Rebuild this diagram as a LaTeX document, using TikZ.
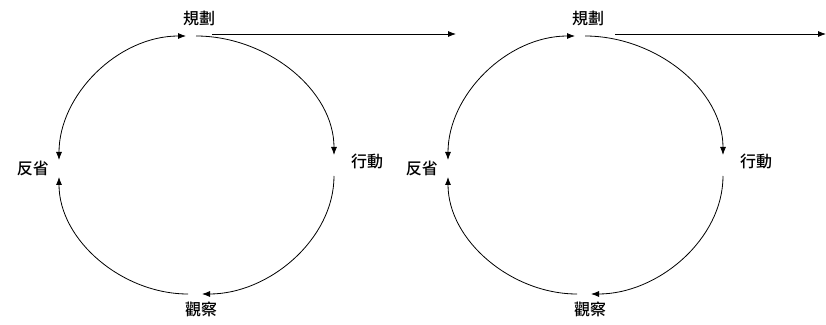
\documentclass[tikz,border=0pt]{standalone}
\usepackage{fontspec}
\newfontfamily\cjk{Noto Sans CJK TC}[BoldFont={Noto Sans CJK TC Medium}]
\usetikzlibrary{arrows.meta, positioning}

\begin{document}
\begin{tikzpicture}[
        x=1pt, y=1pt,
        node distance=10pt,
        every node/.style={font=\cjk\bfseries\fontsize{16}{18}\selectfont, inner sep=0pt},
        >={Latex[length=8pt, width=6pt]},
        cycle/.style={draw, line width=0.8pt}
    ]
    \useasboundingbox (0,0) rectangle (826,324);

    \foreach \n/\dx/\sx/\ex in {1/0/212/456, 2/389/226/437} {
    \begin{scope}[xshift=\dx]
    % Points of the cycle
    \coordinate (top\n) at (191,288);
    \coordinate (left\n) at (59,156);
    \coordinate (right\n) at (334,159);
    \coordinate (bottom\n) at (195,30);
    \coordinate (from\n) at (\sx,290);
    \coordinate (go\n) at (\ex,290);

    % Nodes
    \node (plan\n) [above=10pt of top\n, xshift=8pt] {規劃};
    \node (refl\n) [left=10pt of left\n] {反省};
    \node (act\n) [right=17pt of right\n, yshift=4pt] {行動};
    \node (obs\n) [below=8pt of bottom\n, xshift=6pt] {觀察};

    % Edges
    \draw[cycle, <->, shorten <=5pt, shorten >=8pt] (top\n) to[out=180, in=90] (left\n);
    \draw[cycle, ->, shorten <=5pt, shorten >=10pt] (top\n) to[out=0, in=90] (right\n);
    \draw[cycle, ->, shorten <=11pt, shorten >=7pt] (right\n) to[out=-90, in=0] (bottom\n);
    \draw[cycle, ->, shorten <=7pt, shorten >=9pt] (bottom\n) to[out=180, in=-90] (left\n);
    \draw[cycle, ->] (from\n) -- (go\n);
    \end{scope}
    }
\end{tikzpicture}
\end{document}
